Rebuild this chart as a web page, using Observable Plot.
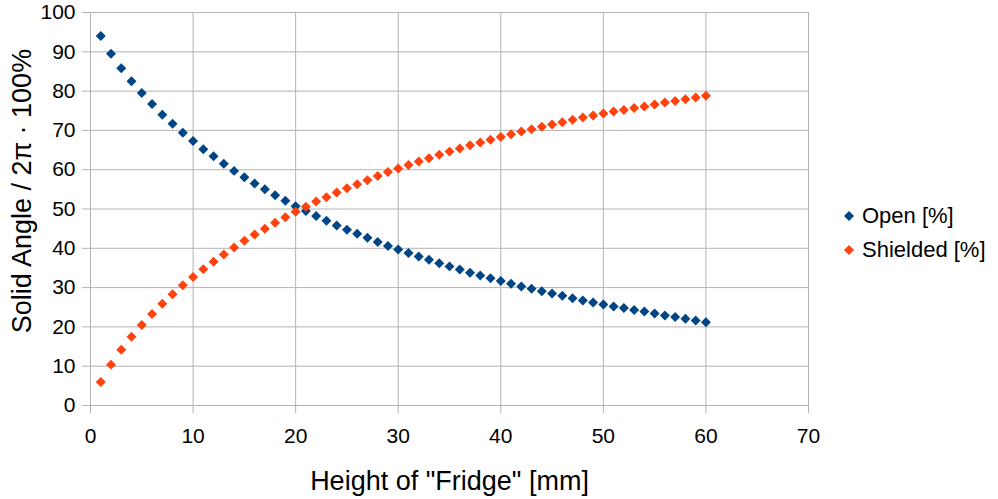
<!DOCTYPE html>
<html><head><meta charset="utf-8">
<script src="https://cdn.jsdelivr.net/npm/d3@7"></script>
<script src="https://cdn.jsdelivr.net/npm/@observablehq/plot@0.6"></script>
<style>
html,body{margin:0;padding:0;background:#fff;}
#wrap{position:relative;width:998px;height:499px;font-family:"Liberation Sans",Arial,sans-serif;}
.row{position:absolute;white-space:nowrap;font-size:22px;line-height:22px;display:flex;align-items:center;}
.row svg{margin-right:7px;}
</style></head><body><div id="wrap"></div>
<script>
const heights = [1,2,3,4,5,6,7,8,9,10,11,12,13,14,15,16,17,18,19,20,21,22,23,24,25,26,27,28,29,30,31,32,33,34,35,36,37,38,39,40,41,42,43,44,45,46,47,48,49,50,51,52,53,54,55,56,57,58,59,60];
const openPct = [94.0,89.5,85.8,82.5,79.5,76.7,74.0,71.7,69.4,67.3,65.2,63.4,61.5,59.7,58.1,56.5,55.0,53.5,52.1,50.7,49.5,48.2,47.0,45.8,44.7,43.7,42.7,41.6,40.6,39.7,38.8,37.9,37.1,36.2,35.4,34.6,33.8,33.1,32.4,31.7,31.0,30.3,29.7,29.1,28.5,27.9,27.3,26.7,26.2,25.7,25.2,24.8,24.3,23.9,23.4,22.9,22.5,22.1,21.6,21.2];
const shieldedPct = [6.0,10.4,14.2,17.5,20.5,23.3,25.9,28.3,30.6,32.7,34.7,36.6,38.4,40.2,41.9,43.5,45.0,46.5,47.9,49.3,50.6,51.9,53.0,54.2,55.3,56.3,57.3,58.4,59.4,60.3,61.2,62.1,62.9,63.8,64.6,65.4,66.2,66.9,67.6,68.3,69.0,69.7,70.3,70.9,71.5,72.1,72.7,73.3,73.8,74.3,74.8,75.2,75.7,76.1,76.6,77.1,77.5,77.9,78.4,78.8];
const xTicks = [0,10,20,30,40,50,60,70];
const yTicks = [0,10,20,30,40,50,60,70,80,90,100];
const seriesNames = ["Open [%]", "Shielded [%]"];
const seriesColors = ["#004586", "#ff420e"];
const xTitle = 'Height of "Fridge" [mm]';
const yTitle = "Solid Angle / 2\u03c0 \u00b7 100%";

const rows = [
  ...heights.map((h, i) => ({h, v: openPct[i], s: seriesNames[0]})),
  ...heights.map((h, i) => ({h, v: shieldedPct[i], s: seriesNames[1]}))
];

const chart = Plot.plot({
  width: 998, height: 499,
  marginLeft: 90, marginRight: 190, marginTop: 12, marginBottom: 94,
  style: {fontFamily: "Liberation Sans, Arial, sans-serif", background: "white", color: "black"},
  x: {domain: [0, 70]},
  y: {domain: [0, 100]},
  color: {domain: seriesNames, range: seriesColors},
  marks: [
    Plot.gridX(xTicks, {stroke: "#b3b3b3", strokeOpacity: 1}),
    Plot.gridY(yTicks, {stroke: "#b3b3b3", strokeOpacity: 1}),
    Plot.axisX(xTicks, {tickSize: 8, tickPadding: 15, fontSize: 21, stroke: "#b3b3b3", fill: "black", label: null}),
    Plot.axisY(yTicks, {tickSize: 8, tickPadding: 7, fontSize: 21, stroke: "#b3b3b3", fill: "black", label: null}),
    Plot.dot(rows, {x: "h", y: "v", fill: "s", symbol: "diamond2", r: 4.5}),
    Plot.text([xTitle], {text: d => d, frameAnchor: "bottom", dy: 76, fontSize: 27, lineAnchor: "middle", fill: "black"}),
    Plot.text([yTitle], {text: d => d, frameAnchor: "left", textAnchor: "middle", rotate: -90, dx: -68, dy: -18, fontSize: 27, lineAnchor: "middle", fill: "black"})
  ]
});
const wrap = document.getElementById("wrap");
wrap.appendChild(chart);

const legendTops = [205, 239];
seriesNames.forEach((name, i) => {
  const row = document.createElement("div");
  row.className = "row";
  row.style.left = "843px";
  row.style.top = legendTops[i] + "px";
  row.innerHTML = `<svg width="12" height="12" viewBox="-6 -6 12 12"><path d="M0,-5L5,0L0,5L-5,0Z" fill="${seriesColors[i]}"/></svg><span>${name}</span>`;
  wrap.appendChild(row);
});
</script>
</body></html>
